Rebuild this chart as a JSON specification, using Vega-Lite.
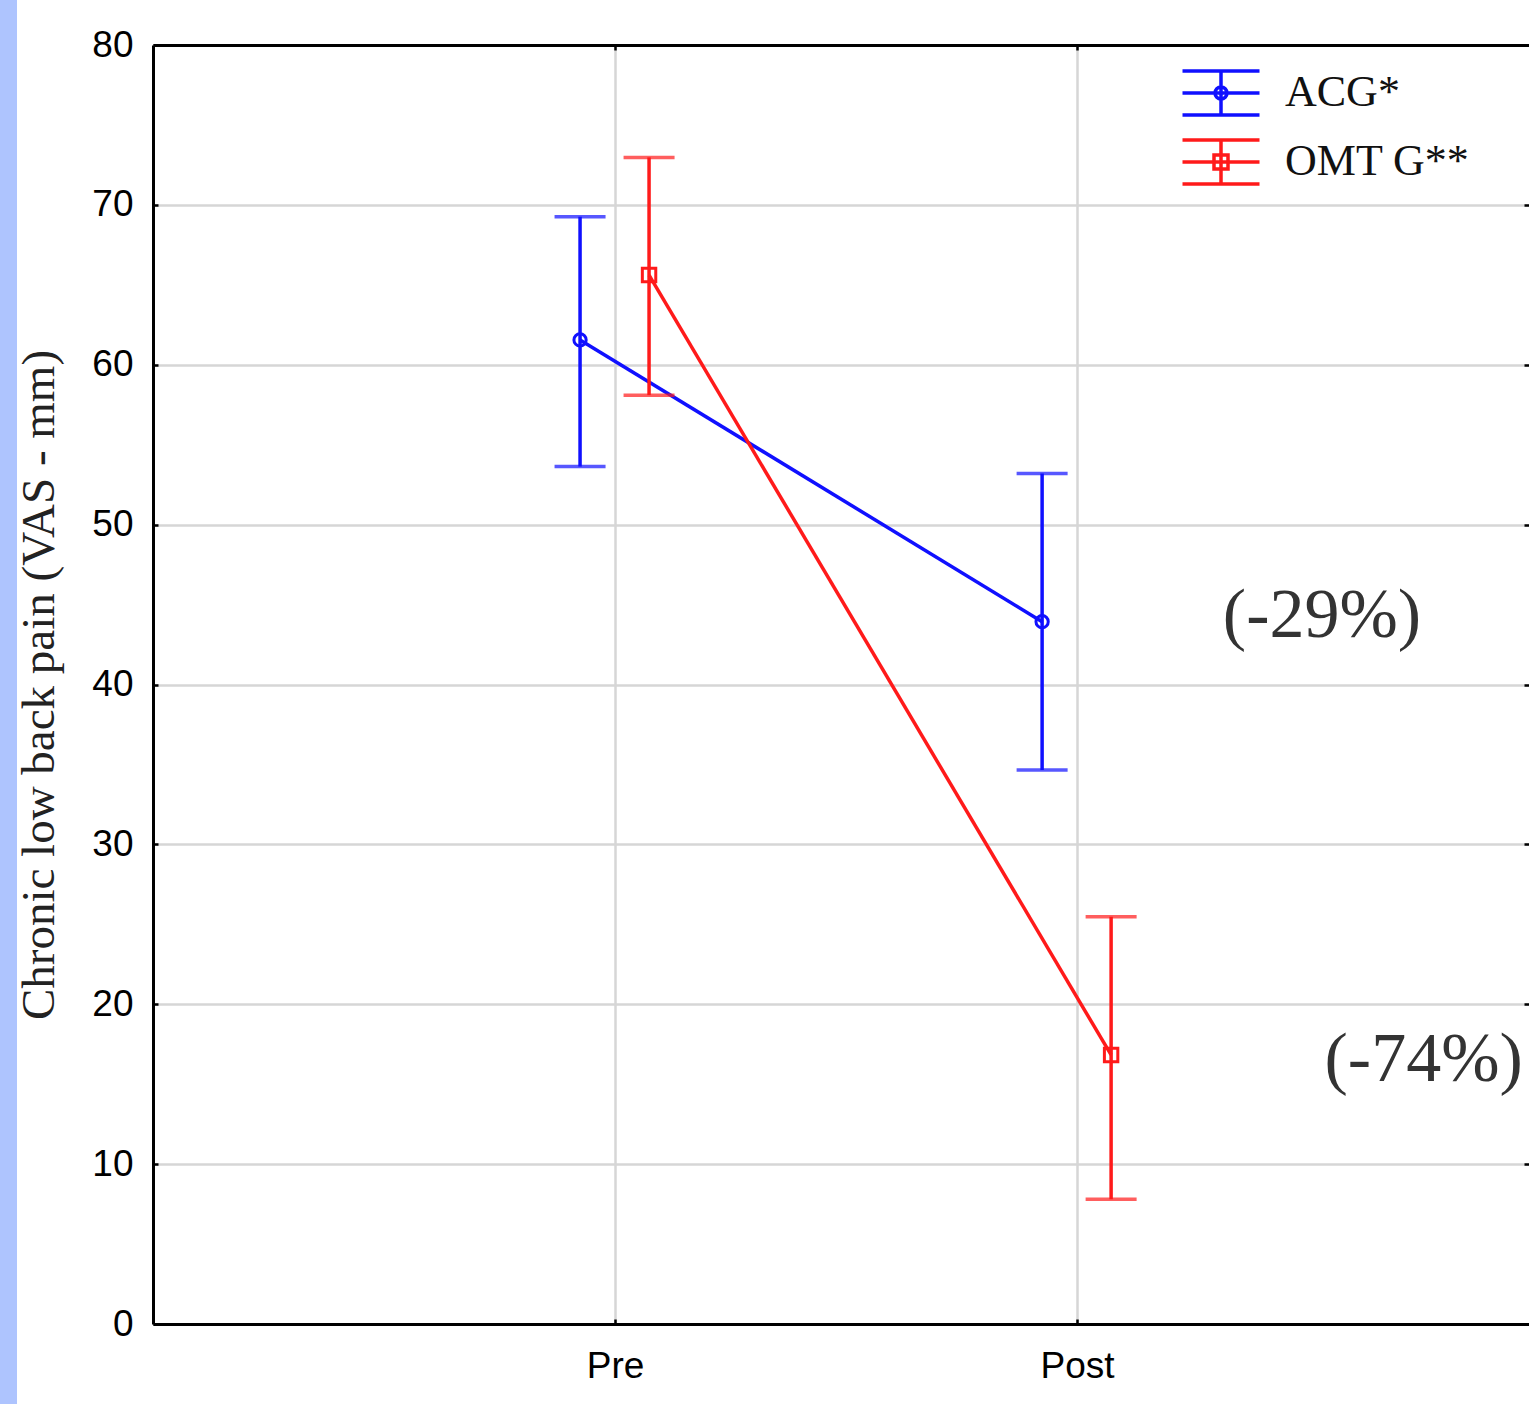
{
  "$schema": "https://vega.github.io/schema/vega-lite/v6.json",
  "width": 1376,
  "height": 1279,
  "autosize": {"type": "none"},
  "padding": {"left": 153, "top": 45, "right": 0, "bottom": 80},
  "background": "#aec4fe",
  "config": {
    "view": {"stroke": "white", "strokeWidth": 272, "fill": "white"},
    "legend": {
      "labelFont": "Liberation Serif",
      "labelFontSize": 44,
      "labelColor": "#111111",
      "labelLimit": 0,
      "symbolSize": 2500,
      "symbolStrokeWidth": 3.5,
      "symbolOpacity": 1,
      "rowPadding": 11,
      "labelOffset": 37,
      "padding": 0
    }
  },
  "datasets": {
    "stats": [
      {"group": "ACG*", "time": 1, "mean": 61.55, "lo": 53.63, "hi": 69.26},
      {"group": "ACG*", "time": 2, "mean": 43.93, "lo": 34.65, "hi": 53.2},
      {"group": "OMT G**", "time": 1, "mean": 65.61, "lo": 58.1, "hi": 72.97},
      {"group": "OMT G**", "time": 2, "mean": 16.83, "lo": 7.8, "hi": 25.48}
    ],
    "notes": [
      {"label": "(-29%)", "time": 2.53, "value": 44.3},
      {"label": "(-74%)", "time": 2.75, "value": 16.5}
    ]
  },
  "data": {"name": "stats"},
  "resolve": {"axis": {"x": "independent", "y": "independent"}},
  "layer": [
    {
      "transform": [{"filter": "datum.group === 'ACG*'"}],
      "encoding": {"x": {"field": "time", "type": "quantitative", "scale": {"domain": [0, 2.978], "nice": false}, "axis": null}},
      "layer": [
        {"mark": {"type": "line", "color": "#1010ff", "strokeWidth": 3.5, "xOffset": -35},
         "encoding": {"y": {"field": "mean", "type": "quantitative", "scale": {"domain": [0, 80], "nice": false}, "axis": null}}},
        {"mark": {"type": "rule", "color": "#1010ff", "strokeWidth": 3.5, "xOffset": -35},
         "encoding": {"y": {"field": "lo", "type": "quantitative", "scale": {"domain": [0, 80], "nice": false}, "axis": null}, "y2": {"field": "hi"}}},
        {"mark": {"type": "tick", "orient": "horizontal", "color": "#1010ff", "thickness": 3.5, "size": 51, "xOffset": -35},
         "encoding": {"y": {"field": "lo", "type": "quantitative", "scale": {"domain": [0, 80], "nice": false}, "axis": null}}},
        {"mark": {"type": "tick", "orient": "horizontal", "color": "#1010ff", "thickness": 3.5, "size": 51, "xOffset": -35},
         "encoding": {"y": {"field": "hi", "type": "quantitative", "scale": {"domain": [0, 80], "nice": false}, "axis": null}}},
        {"mark": {"type": "point", "shape": "circle", "filled": false, "color": "#1010ff", "strokeWidth": 3, "size": 150, "opacity": 1, "xOffset": -35},
         "encoding": {"y": {"field": "mean", "type": "quantitative", "scale": {"domain": [0, 80], "nice": false}, "axis": null}}}
      ]
    },
    {
      "transform": [{"filter": "datum.group === 'OMT G**'"}],
      "encoding": {"x": {"field": "time", "type": "quantitative", "scale": {"domain": [0, 2.978], "nice": false}, "axis": null}},
      "layer": [
        {"mark": {"type": "line", "color": "#ff1a1a", "strokeWidth": 3.5, "xOffset": 34},
         "encoding": {"y": {"field": "mean", "type": "quantitative", "scale": {"domain": [0, 80], "nice": false}, "axis": null}}},
        {"mark": {"type": "rule", "color": "#ff1a1a", "strokeWidth": 3.5, "xOffset": 34},
         "encoding": {"y": {"field": "lo", "type": "quantitative", "scale": {"domain": [0, 80], "nice": false}, "axis": null}, "y2": {"field": "hi"}}},
        {"mark": {"type": "tick", "orient": "horizontal", "color": "#ff1a1a", "thickness": 3.5, "size": 51, "xOffset": 34},
         "encoding": {"y": {"field": "lo", "type": "quantitative", "scale": {"domain": [0, 80], "nice": false}, "axis": null}}},
        {"mark": {"type": "tick", "orient": "horizontal", "color": "#ff1a1a", "thickness": 3.5, "size": 51, "xOffset": 34},
         "encoding": {"y": {"field": "hi", "type": "quantitative", "scale": {"domain": [0, 80], "nice": false}, "axis": null}}},
        {"mark": {"type": "point", "shape": "square", "filled": false, "color": "#ff1a1a", "strokeWidth": 3, "size": 180, "opacity": 1, "xOffset": 34},
         "encoding": {"y": {"field": "mean", "type": "quantitative", "scale": {"domain": [0, 80], "nice": false}, "axis": null}}}
      ]
    },
    {
      "mark": {"type": "point", "filled": false, "opacity": 0},
      "encoding": {
        "x": {"field": "time", "type": "quantitative", "scale": {"domain": [0, 2.978], "nice": false},
              "axis": {"orient": "bottom", "values": [1, 2], "labelExpr": "datum.value == 1 ? 'Pre' : 'Post'", "title": null,
                       "grid": true, "gridColor": "#d6d6d6", "gridWidth": 2.5,
                       "domainColor": "#000000", "domainWidth": 3, "tickColor": "#000000", "tickWidth": 2.5, "tickSize": -5,
                       "labelPadding": 29, "labelFont": "Liberation Sans", "labelFontSize": 37, "labelColor": "#000000"}},
        "y": {"field": "mean", "type": "quantitative", "scale": {"domain": [0, 80], "nice": false},
              "axis": {"orient": "left", "values": [0, 10, 20, 30, 40, 50, 60, 70, 80], "title": "Chronic low back pain (VAS - mm)",
                       "grid": true, "gridColor": "#d6d6d6", "gridWidth": 2.5,
                       "domainColor": "#000000", "domainWidth": 3, "tickColor": "#000000", "tickWidth": 2.5, "tickSize": -5,
                       "labelPadding": 25, "labelFont": "Liberation Sans", "labelFontSize": 37, "labelColor": "#000000",
                       "titleFont": "Liberation Serif", "titleFontSize": 47, "titleFontWeight": "normal", "titleColor": "#222222", "titlePadding": 28}},
        "color": {"field": "group", "type": "nominal",
                  "scale": {"domain": ["ACG*", "OMT G**"], "range": ["#1010ff", "#ff1a1a"]},
                  "legend": {"title": null, "orient": "none", "legendX": 1041, "legendY": 21}},
        "shape": {"field": "group", "type": "nominal",
                  "scale": {"domain": ["ACG*", "OMT G**"],
                            "range": ["M-1.54,-0.88H1.54M-1.54,0H1.54M-1.54,0.88H1.54M0,-0.88V0.88M0.24,0A0.24,0.24,0,1,1,-0.24,0A0.24,0.24,0,1,1,0.24,0Z",
                                      "M-1.54,-0.88H1.54M-1.54,0H1.54M-1.54,0.88H1.54M0,-0.88V0.88M-0.28,-0.28H0.28V0.28H-0.28Z"]},
                  "legend": {"title": null, "orient": "none", "legendX": 1041, "legendY": 21}}
      }
    },
    {
      "data": {"name": "notes"},
      "mark": {"type": "text", "font": "Liberation Serif", "fontSize": 70, "color": "#333333", "align": "center", "baseline": "middle"},
      "encoding": {
        "x": {"field": "time", "type": "quantitative", "scale": {"domain": [0, 2.978], "nice": false},
              "axis": {"orient": "top", "values": [1, 2], "labels": false, "title": null, "grid": false,
                       "domainColor": "#000000", "domainWidth": 3, "tickColor": "#000000", "tickWidth": 2.5, "tickSize": -5}},
        "y": {"field": "value", "type": "quantitative", "scale": {"domain": [0, 80], "nice": false},
              "axis": {"orient": "right", "values": [0, 10, 20, 30, 40, 50, 60, 70, 80], "labels": false, "title": null, "grid": false,
                       "domain": false, "tickColor": "#000000", "tickWidth": 2.5, "tickSize": -5}},
        "text": {"field": "label", "type": "nominal"}
      }
    }
  ]
}
